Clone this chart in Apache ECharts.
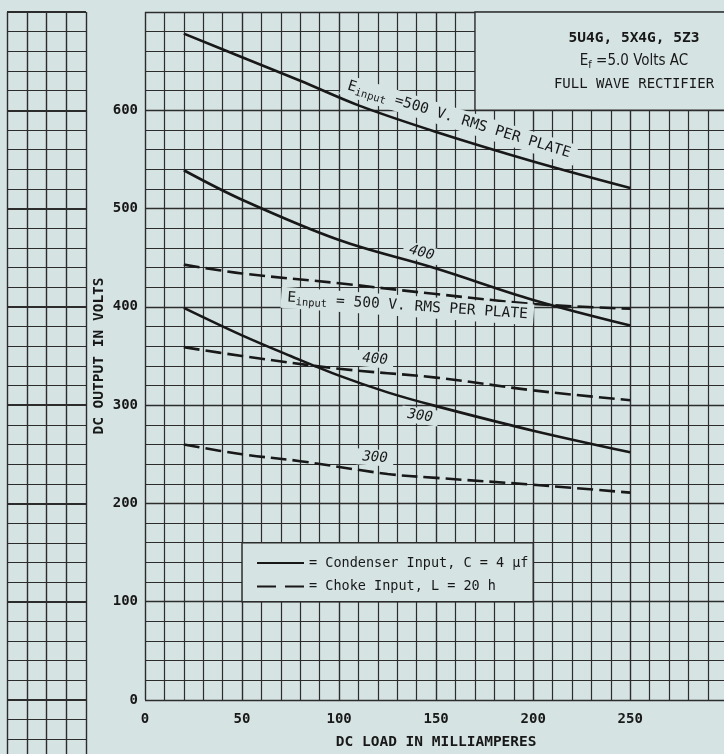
<!DOCTYPE html>
<html><head><meta charset="utf-8">
<script src="https://cdn.jsdelivr.net/npm/echarts@6/dist/echarts.min.js"></script>
<style>html,body{margin:0;padding:0;background:#d6e3e3}#c{width:724px;height:754px}</style>
</head><body><div id="c"></div>
<script>
// ---- data (DC load mA, DC output V) ----
const xTickValues = [0, 50, 100, 150, 200, 250];
const yTickValues = [0, 100, 200, 300, 400, 500, 600];
const cond500  = [[20,678],[50,654],[80,630],[110,605],[150,578],[200,548],[250,521]];
const cond400  = [[20,539],[50,509],[100,468],[150,439],[200,407],[250,381]];
const cond300  = [[20,399],[50,371],[75,350],[100,330],[125,313],[150,299],[200,274],[250,252]];
const choke500 = [[20,443],[50,434],[100,424],[150,413],[200,403],[250,398]];
const choke400 = [[20,359],[50,350],[100,337],[150,328],[200,315],[250,305]];
const choke300 = [[20,260],[50,250],[80,243],[125,230],[150,226],[200,219],[250,211]];
const condName  = '= Condenser Input, C = 4 \u00b5f';
const chokeName = '= Choke Input, L = 20 h';
const curveLabels = [
  {coord:[161.8,590.4], rot:-17, text:'{n|E}{s|input}{n| =500 V. RMS PER PLATE}'},
  {coord:[142.5,455],   rot:-15, text:'{i|400}'},
  {coord:[135.2,400.7], rot:-4,  text:'{n|E}{s|input}{n| = 500 V. RMS PER PLATE}'},
  {coord:[118.5,346.6], rot:-5,  text:'{i|400}'},
  {coord:[141.7,289],   rot:-8,  text:'{i|300}'},
  {coord:[118.5,246.7], rot:-4,  text:'{i|300}'}
];
const boxes = [[[170,600],[300,700]], [[50,100],[200,160]]];

// ---- style ----
const paper = '#d6e3e3', ink = '#181818', gridInk = '#2c2c2c';
const mono = '"DejaVu Sans Mono", monospace';
const cond = '"DejaVu Sans Condensed", "DejaVu Sans", sans-serif';
const rich = {
  n: {fontFamily: mono, fontSize: 14.5, color: ink},
  s: {fontFamily: mono, fontSize: 10.5, color: ink, padding: [8,0,0,0]},
  i: {fontFamily: mono, fontSize: 14, fontStyle: 'italic', color: ink}
};
function line(name, data, dashed) {
  return {
    type: 'line', name: name, data: data, symbol: 'none', smooth: 0.35,
    xAxisIndex: 0, yAxisIndex: 0, silent: true,
    lineStyle: {color: ink, width: 2.6, type: dashed ? [16,6] : 'solid'},
    itemStyle: {color: ink}
  };
}
const chart = echarts.init(document.getElementById('c'), null, {renderer: 'canvas'});
const axisLbl = {fontFamily: mono, fontWeight: 'bold', fontSize: 14, color: ink};
chart.setOption({
  backgroundColor: paper,
  animation: false,
  title: {
    text: '{b|5U4G, 5X4G, 5Z3}\n{c|E}{cs|f}{c| =5.0 Volts AC}\n{n|FULL WAVE RECTIFIER}',
    left: 629, top: 21, textAlign: 'center',
    textStyle: {fontWeight: 'normal', rich: {
      b: {fontFamily: mono, fontWeight: 'bold', fontSize: 14.5, lineHeight: 23.5, color: ink},
      n: {fontFamily: mono, fontWeight: 'normal', fontSize: 14, lineHeight: 23.5, color: ink},
      c: {fontFamily: cond, fontWeight: 'normal', fontSize: 15, lineHeight: 23.5, color: ink},
      cs: {fontFamily: cond, fontWeight: 'normal', fontSize: 11, color: ink, padding: [8,0,0,0]}
    }}
  },
  legend: {
    data: [
      {name: condName, lineStyle: {type: 'solid'}},
      {name: chokeName, lineStyle: {type: [19,9]}}
    ],
    orient: 'vertical', left: 251, top: 551,
    itemWidth: 47, itemHeight: 14, itemGap: 9.4, selectedMode: false,
    itemStyle: {color: 'rgba(0,0,0,0)', borderColor: 'rgba(0,0,0,0)', borderWidth: 0, opacity: 0},
    textStyle: {fontFamily: mono, fontSize: 13.5, color: ink, lineHeight: 14}
  },
  grid: [
    {left: 145, top: 12, width: 582.3, height: 688, outerBoundsMode: 'none'},
    {left: 7, top: 12, width: 79, height: 786.3, outerBoundsMode: 'none'}
  ],
  xAxis: [
    {gridIndex: 0, type: 'value', min: 0, max: 300, interval: 50,
     axisLine: {show: false}, axisTick: {show: false},
     axisLabel: Object.assign({margin: 12, showMaxLabel: false,
       formatter: v => xTickValues.includes(v) ? String(v) : ''}, axisLbl),
     splitLine: {lineStyle: {color: gridInk, width: 1.4}},
     minorTick: {show: false, splitNumber: 5},
     minorSplitLine: {show: true, lineStyle: {color: gridInk, width: 1.2}},
     name: 'DC LOAD IN MILLIAMPERES', nameLocation: 'middle', nameGap: 35, nameMoveOverlap: false,
     nameTextStyle: {fontFamily: mono, fontWeight: 'bold', fontSize: 14.5, color: ink}},
    {gridIndex: 1, type: 'value', min: 0, max: 4, interval: 1,
     axisLine: {show: false}, axisTick: {show: false}, axisLabel: {show: false},
     splitLine: {lineStyle: {color: gridInk, width: 1.4}}}
  ],
  yAxis: [
    {gridIndex: 0, type: 'value', min: 0, max: 700, interval: 100,
     axisLine: {show: false}, axisTick: {show: false},
     axisLabel: Object.assign({margin: 7, showMaxLabel: false,
       formatter: v => yTickValues.includes(v) ? String(v) : ''}, axisLbl),
     splitLine: {lineStyle: {color: gridInk, width: 1.4}},
     minorTick: {show: false, splitNumber: 5},
     minorSplitLine: {show: true, lineStyle: {color: gridInk, width: 1.2}},
     name: 'DC OUTPUT IN VOLTS', nameLocation: 'middle', nameGap: 38, nameRotate: 90, nameMoveOverlap: false,
     nameTextStyle: {fontFamily: mono, fontWeight: 'bold', fontSize: 14.5, color: ink}},
    {gridIndex: 1, type: 'value', min: -100, max: 700, interval: 100,
     axisLine: {show: false}, axisTick: {show: false}, axisLabel: {show: false},
     splitLine: {lineStyle: {color: gridInk, width: 2}},
     minorTick: {show: false, splitNumber: 5},
     minorSplitLine: {show: true, lineStyle: {color: gridInk, width: 1.2}}}
  ],
  series: [
    {type: 'scatter', name: 'aux', data: [], xAxisIndex: 0, yAxisIndex: 0, silent: true,
     markArea: {silent: true, itemStyle: {color: paper, borderColor: gridInk, borderWidth: 1.4},
       data: boxes.map(b => [{coord: b[0]}, {coord: b[1]}])},
     markPoint: {silent: true, symbol: 'rect', symbolSize: 1, itemStyle: {color: 'rgba(0,0,0,0)'},
       data: curveLabels.map(l => ({coord: l.coord, label: {
         show: true, position: 'inside', rotate: l.rot, formatter: l.text,
         backgroundColor: paper, padding: [1,6], rich: rich}}))}},
    line(condName, cond500, false),
    line(condName, cond400, false),
    line(condName, cond300, false),
    line(chokeName, choke500, true),
    line(chokeName, choke400, true),
    line(chokeName, choke300, true)
  ]
});
</script>
</body></html>
